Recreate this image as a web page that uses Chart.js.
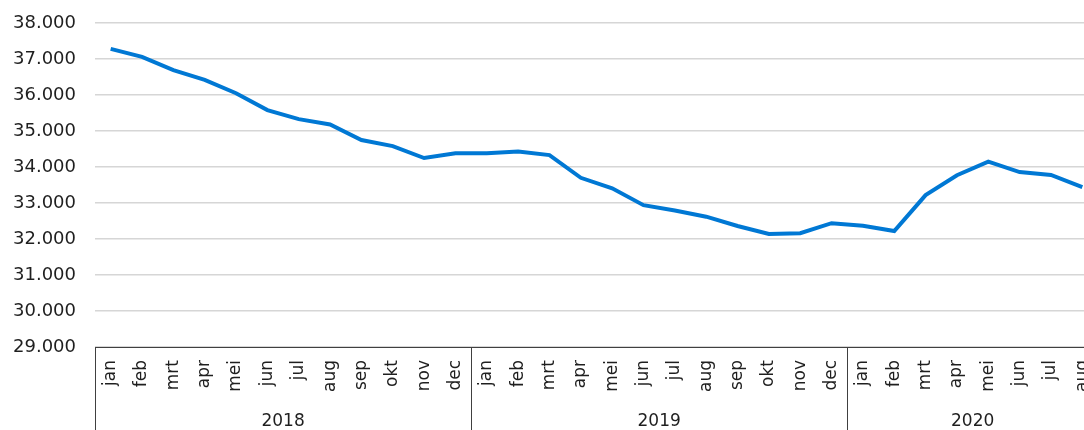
<!DOCTYPE html>
<html>
<head>
<meta charset="utf-8">
<script src="https://cdn.jsdelivr.net/npm/chart.js@4"></script>
<style>
  html, body { margin: 0; padding: 0; background: #fff; overflow: hidden; }
  #wrap { width: 1084px; height: 430px; overflow: hidden; }
</style>
</head>
<body>
<div id="wrap"><canvas id="chart" width="1110" height="430"></canvas></div>
<script>
// month labels, one per data point (2018 jan .. 2020 aug)
const monthNames = ['jan', 'feb', 'mrt', 'apr', 'mei', 'jun', 'jul', 'aug', 'sep', 'okt', 'nov', 'dec'];
const years = ['2018', '2019', '2020'];
const monthsPerYear = [12, 12, 8];

const values2018 = [37280, 37060, 36690, 36420, 36050, 35580, 35330, 35180, 34750, 34580, 34250, 34380];
const values2019 = [34380, 34430, 34330, 33700, 33410, 32940, 32790, 32620, 32360, 32140, 32160, 32440];
const values2020 = [32370, 32220, 33220, 33770, 34150, 33860, 33780, 33440];

const yTicks = { min: 29000, max: 38000, step: 1000 };

const labels = [];
monthsPerYear.forEach(n => { for (let i = 0; i < n; i++) labels.push(monthNames[i]); });
const values = [...values2018, ...values2019, ...values2020];

const FONT = '"DejaVu Sans", Verdana, sans-serif';
const TEXT = '#1f1f1f';

function fmt(n) {
  return String(n).replace(/\B(?=(\d{3})+(?!\d))/g, '.');
}

// year row under the month labels, with separators between years
const yearAxis = {
  id: 'yearAxis',
  afterDraw(chart) {
    const ctx = chart.ctx;
    const x = chart.scales.x;
    const area = chart.chartArea;
    ctx.save();
    ctx.strokeStyle = '#404040';
    ctx.lineWidth = 1;
    let start = 0;
    const bounds = [x.getPixelForValue(-0.5)];
    monthsPerYear.forEach(n => { start += n; bounds.push(x.getPixelForValue(start - 0.5)); });
    bounds.forEach(px => {
      const xx = Math.round(px) + 0.5;
      ctx.beginPath();
      ctx.moveTo(xx, area.bottom);
      ctx.lineTo(xx, chart.height);
      ctx.stroke();
    });
    ctx.fillStyle = TEXT;
    ctx.font = '17px ' + FONT;
    ctx.textAlign = 'center';
    ctx.textBaseline = 'alphabetic';
    years.forEach((y, i) => {
      ctx.fillText(y, (bounds[i] + bounds[i + 1]) / 2, 426);
    });
    ctx.restore();
  }
};

new Chart(document.getElementById('chart'), {
  type: 'line',
  data: {
    labels: labels,
    datasets: [{
      data: values,
      borderColor: '#0078d4',
      borderWidth: 4,
      pointRadius: 0,
      tension: 0,
      fill: false
    }]
  },
  options: {
    responsive: false,
    animation: false,
    layout: { padding: { top: 23, right: 12, left: 0, bottom: 0 } },
    plugins: { legend: { display: false }, tooltip: { enabled: false } },
    scales: {
      x: {
        offset: true,
        grid: { display: false, drawTicks: false },
        border: { display: true, color: '#404040', width: 1 },
        ticks: {
          color: TEXT,
          font: { family: FONT, size: 17 },
          minRotation: 90,
          maxRotation: 90,
          autoSkip: false,
          padding: 13
        },
        afterFit(scale) {
          scale.height = 83;
          scale.paddingLeft = 0;
          scale.paddingRight = 0;
        }
      },
      y: {
        min: yTicks.min,
        max: yTicks.max,
        grid: { color: '#d6d6d6', lineWidth: 1.5, drawTicks: false },
        border: { display: false },
        ticks: {
          stepSize: yTicks.step,
          color: TEXT,
          font: { family: FONT, size: 18 },
          padding: 19,
          callback: v => fmt(v)
        },
        afterFit(scale) {
          scale.width = 95;
          scale.paddingTop = 0;
          scale.paddingBottom = 0;
        }
      }
    }
  },
  plugins: [yearAxis]
});
</script>
</body>
</html>
